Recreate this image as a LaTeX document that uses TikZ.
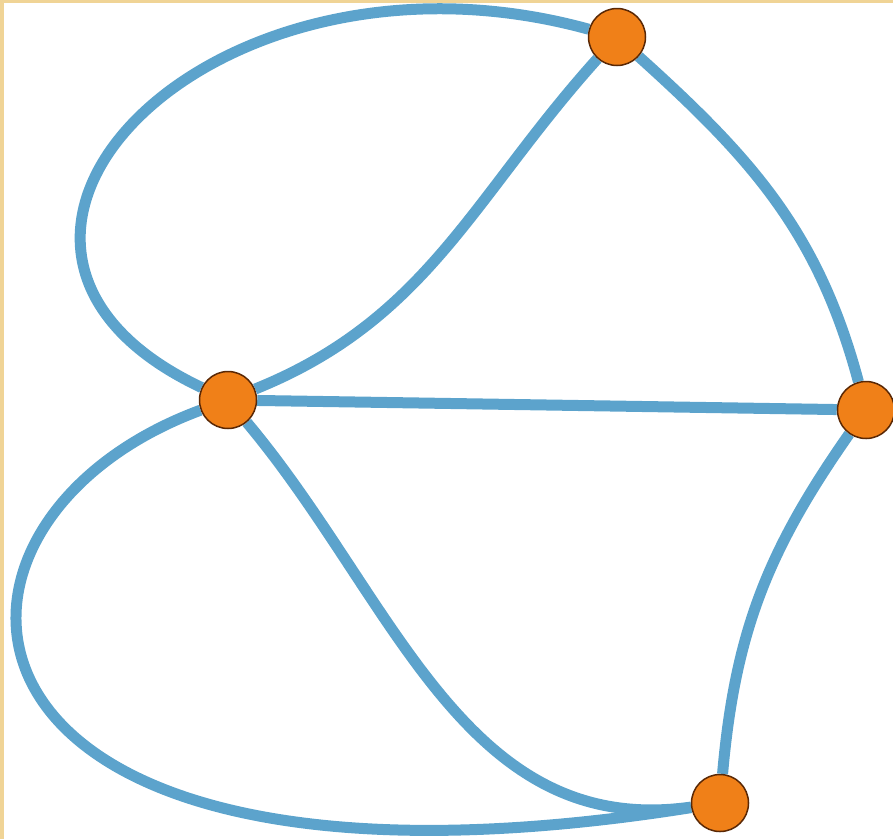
\documentclass[tikz,border=0pt]{standalone}
\usetikzlibrary{backgrounds}
\definecolor{edgeblue}{RGB}{92,163,204}
\definecolor{vertorange}{RGB}{240,128,24}
\definecolor{vertrim}{RGB}{90,40,5}
\definecolor{frametan}{RGB}{240,212,150}

\begin{document}
\begin{tikzpicture}[x=1pt,y=-1pt,
  vert/.style={circle,fill=vertorange,draw=vertrim,line width=1.5pt,minimum size=57pt,inner sep=0pt},
  edge/.style={draw=edgeblue,line width=11pt}]
 \useasboundingbox (0,0) rectangle (893,839);
 \node[vert] (a) at (228,400) {};
 \node[vert] (b) at (617,37) {};
 \node[vert] (c) at (866,410) {};
 \node[vert] (d) at (720,803) {};
 \begin{scope}[on background layer]
  \fill[frametan] (0,0) rectangle (4,839);
  \fill[frametan] (0,0) rectangle (893,2.5);
  % two edges a--b
  \draw[edge] (a) .. controls (-100,245) and (210,-75) .. (b);
  \draw[edge] (a) to[out=22,in=-132] (b);
  \draw[edge] (b) to[out=-42,in=105] (c);
  \draw[edge] (a) -- (c);
  \draw[edge] (c) to[out=-125,in=85] (d);
  % two edges a--d
  \draw[edge] (a) to[out=-50,in=188] (d);
  \draw[edge] (a) .. controls (-110,525) and (-80,930) .. (d);
 \end{scope}
\end{tikzpicture}
\end{document}
